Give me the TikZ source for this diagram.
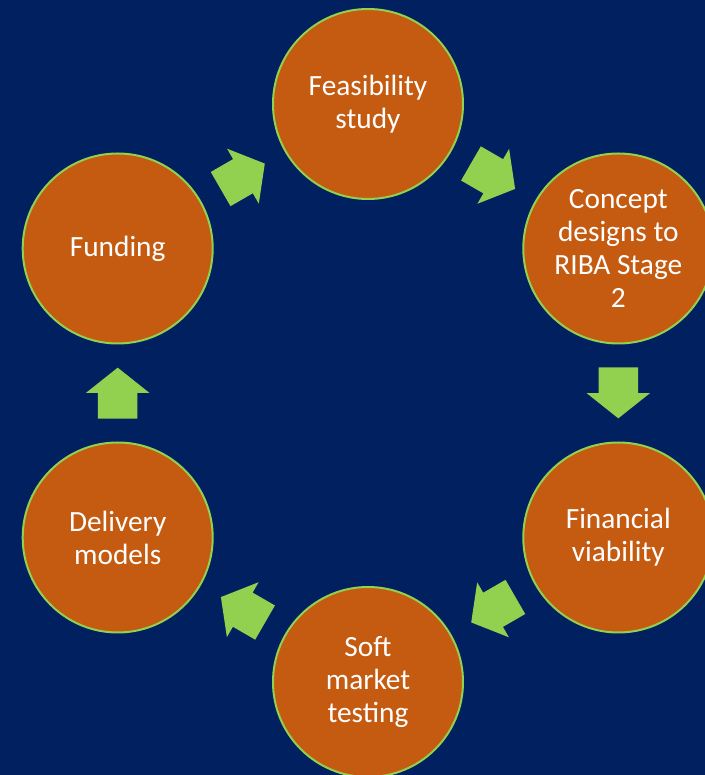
\documentclass[tikz,border=0pt]{standalone}
\usepackage{fontspec}
\setmainfont{Carlito}
\usepackage{tikz}
\usetikzlibrary{shapes.arrows,calc}
\definecolor{navybg}{HTML}{002060}
\definecolor{stageorange}{HTML}{C55A11}
\definecolor{leafgreen}{HTML}{92D050}
\tikzset{
	stage/.style={circle,fill=stageorange,draw=leafgreen,line width=1.5pt,minimum size=142.5pt,inner sep=0pt,
		text=white,align=center,font=\fontsize{22}{24.75}\selectfont},
	flowarrow/.style={single arrow,fill=leafgreen,draw=none,inner xsep=0pt,inner ysep=14.6pt,minimum height=38.25pt,
		single arrow head extend=9pt,single arrow tip angle=103}
}
\begin{document}
\begin{tikzpicture}[x=0.75pt,y=0.75pt]
		\fill[navybg] (0,0) rectangle (705,775);
		\useasboundingbox (0,0) rectangle (705,775);
		
		\node[stage] (feas) at (368,671) {Feasibility\\study};
		\node[stage] (concept) at (618.3,526.5) {Concept\\designs to\\RIBA Stage\\2};
		\node[stage] (fin) at (618.3,237.5) {Financial\\viability};
		\node[stage] (soft) at (368,93) {Soft\\market\\testing};
		\node[stage] (deliv) at (117.7,237.5) {Delivery\\models};
		\node[stage] (fund) at (117.7,526.5) {Funding};
		
		% arrows sit halfway between stages, nudged back a little
		\foreach \a/\b/\ang in {feas/concept/-30,concept/fin/-90,fin/soft/-150,soft/deliv/150,deliv/fund/90,fund/feas/30}{
			\node[flowarrow,rotate=\ang] (arr-\a) at ($(\a)!0.5!(\b)!6pt!(\a)$) {};
		}
	\end{tikzpicture}
\end{document}
